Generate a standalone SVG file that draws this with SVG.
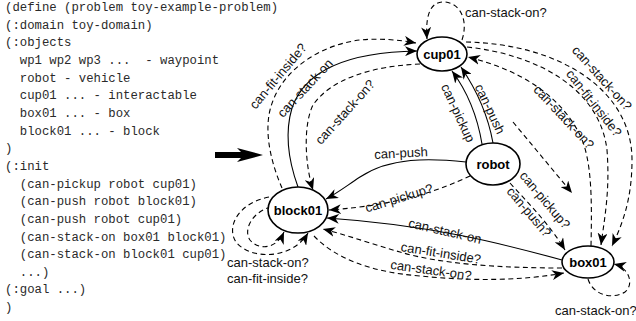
<svg xmlns="http://www.w3.org/2000/svg" width="636" height="321" viewBox="0 0 636 321">
<style>
.code{font-family:"Liberation Mono","Courier New",monospace;font-size:12.3px;fill:#2a2a2a}
.nd ellipse{fill:#fff;stroke:#000;stroke-width:1.6}
.nd text{font-family:"Liberation Sans",Arial,sans-serif;font-weight:bold;font-size:13px;fill:#000;text-anchor:middle}
.e{fill:none;stroke:#000;stroke-width:1.1}
.d{stroke-dasharray:5 3.5}
.lb{font-family:"Liberation Sans",Arial,sans-serif;font-size:13px;fill:#111}
.c{text-anchor:middle}
</style>
<defs>
<marker id="ah" viewBox="0 0 12 10" refX="12" refY="5" markerWidth="12" markerHeight="10" markerUnits="userSpaceOnUse" orient="auto">
<path d="M0,0 L12,5 L0,10 L3.5,5 z" fill="#000"/>
</marker>
</defs>
<g id="code" class="code">
<text x="5" y="11">(define (problem toy-example-problem)</text>
<text x="5" y="28.6">(:domain toy-domain)</text>
<text x="5" y="46.3">(:objects</text>
<text x="19.8" y="64">wp1 wp2 wp3 ...&#160;&#160;- waypoint</text>
<text x="19.8" y="81.6">robot - vehicle</text>
<text x="19.8" y="99.3">cup01 ... - interactable</text>
<text x="19.8" y="117">box01 ... - box</text>
<text x="19.8" y="134.6">block01 ... - block</text>
<text x="5" y="152.2">)</text>
<text x="5" y="169.9">(:init</text>
<text x="19.8" y="187.5">(can-pickup robot cup01)</text>
<text x="19.8" y="205.2">(can-push robot block01)</text>
<text x="19.8" y="222.8">(can-push robot cup01)</text>
<text x="19.8" y="240.5">(can-stack-on box01 block01)</text>
<text x="19.8" y="258.1">(can-stack-on block01 cup01)</text>
<text x="19.8" y="275.8">...)</text>
<text x="5" y="293.4">(:goal ...)</text>
<text x="5" y="311">)</text>
</g>
<polygon id="start-arrow" points="215,152 241,152 237,148 263,155 237,162 241,158 215,158" fill="#000"/>
<g id="connectors">
<path class="e d" d="M462 40 C468 22 462 4 445 2 C432 1 425 12 427 39" marker-end="url(#ah)"/>
<path class="e d" d="M282 188 C272 165 264 135 270 110 C280 70 320 45 360 40 C380 38 400 40 416 43" marker-end="url(#ah)"/>
<path class="e" d="M298 187 C290 165 284 135 292 108 C305 70 350 52 417 51" marker-end="url(#ah)"/>
<path class="e d" d="M420 64 C370 66 330 80 313 105 C303 125 305 165 313 190" marker-end="url(#ah)"/>
<path class="e" d="M482 144 C478 120 470 95 452 71" marker-end="url(#ah)"/>
<path class="e" d="M493 143 C488 115 478 92 461 67" marker-end="url(#ah)"/>
<path class="e" d="M466 162 C430 158 390 157 360 177 C345 187 336 194 326 199" marker-end="url(#ah)"/>
<path class="e d" d="M470 176 C440 190 400 205 329 210" marker-end="url(#ah)"/>
<path class="e d" d="M510 183 C530 205 550 225 565 250" marker-end="url(#ah)"/>
<path class="e d" d="M513 122 L572 193" marker-end="url(#ah)"/>
<path class="e d" d="M466 42 C560 44 632 90 632 160 C632 200 622 225 612 246" marker-end="url(#ah)"/>
<path class="e d" d="M467 47 C540 55 600 90 607 150 C610 190 605 215 601 245" marker-end="url(#ah)"/>
<path class="e d" d="M591 246 C592 200 592 160 580 135 C560 95 520 70 468 57" marker-end="url(#ah)"/>
<path class="e" d="M562 260 C500 243 430 225 327 218" marker-end="url(#ah)"/>
<path class="e d" d="M562 268 C500 268 440 264 400 252 C375 245 350 236 323 229" marker-end="url(#ah)"/>
<path class="e d" d="M314 236 C335 258 370 272 420 276 C470 281 520 281 564 273" marker-end="url(#ah)"/>
<path class="e d" d="M269 197 C238 203 226 227 236 242 C250 260 292 260 308 233" marker-end="url(#ah)"/>
<path class="e d" d="M271 207 C252 212 243 230 250 240 C258 250 276 250 284 232" marker-end="url(#ah)"/>
<path class="e d" d="M588 279 C593 295 612 300 625 292 C634 285 630 268 614 264" marker-end="url(#ah)"/>
</g>
<g id="labels" class="lb">
<text x="465" y="17">can-stack-on?</text>
<text class="c" transform="translate(278,76) rotate(-50)" y="4.5">can-fit-inside?</text>
<text class="c" transform="translate(305,88) rotate(-47)" y="4.5">can-stack-on</text>
<text class="c" transform="translate(345,112) rotate(-48)" y="4.5">can-stack-on?</text>
<text class="c" transform="translate(458,113) rotate(65)" y="4.5">can-pickup</text>
<text class="c" transform="translate(490,109) rotate(65)" y="4.5">can-push</text>
<text class="c" transform="translate(401,153) rotate(-3)" y="4.5">can-push</text>
<text class="c" transform="translate(399,198) rotate(-17)" y="4.5">can-pickup?</text>
<text class="c" transform="translate(545,200) rotate(50)" y="4.5">can-pickup?</text>
<text class="c" transform="translate(529,212) rotate(50)" y="4.5">can-push?</text>
<text class="c" transform="translate(602,78) rotate(48)" y="4.5">can-stack-on?</text>
<text class="c" transform="translate(594,103) rotate(52)" y="4.5">can-fit-inside?</text>
<text class="c" transform="translate(564,117) rotate(47)" y="4.5">can-stack-on?</text>
<text class="c" transform="translate(445,231) rotate(13)" y="4.5">can-stack-on</text>
<text class="c" transform="translate(441,253) rotate(9)" y="4.5">can-fit-inside?</text>
<text class="c" transform="translate(431,270) rotate(8)" y="4.5">can-stack-on?</text>
<text x="227" y="267">can-stack-on?</text>
<text x="227" y="283">can-fit-inside?</text>
<text x="555" y="315">can-stack-on?</text>
</g>
<g id="cup01" class="nd"><ellipse cx="442" cy="54" rx="25" ry="17"/><text x="442" y="58.5">cup01</text></g>
<g id="robot" class="nd"><ellipse cx="493" cy="164" rx="27" ry="21"/><text x="493" y="168.5">robot</text></g>
<g id="block01" class="nd"><ellipse cx="298" cy="210" rx="30" ry="23"/><text x="298" y="214.5">block01</text></g>
<g id="box01" class="nd"><ellipse cx="588" cy="262" rx="26" ry="16"/><text x="588" y="266.5">box01</text></g>
</svg>
